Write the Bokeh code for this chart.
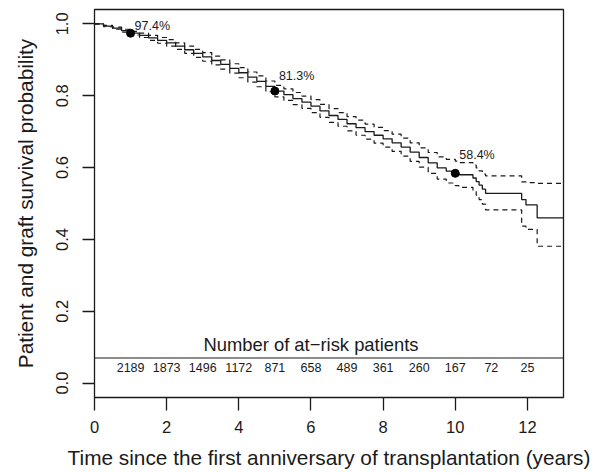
from bokeh.plotting import figure
from bokeh.models import FixedTicker, Span, ColumnDataSource, Range1d
from bokeh.core.properties import value
from bokeh.embed import file_html
from bokeh.resources import INLINE

# Kaplan-Meier estimate (years since first anniversary, survival probability)
times = [0.0, 0.25, 0.5, 0.75, 1.0, 1.25, 1.5, 1.75, 2.0, 2.25, 2.5, 2.75,
         3.0, 3.25, 3.5, 3.75, 4.0, 4.25, 4.5, 4.75, 5.0, 5.25, 5.5, 5.75,
         6.0, 6.25, 6.5, 6.75, 7.0, 7.25, 7.5, 7.75, 8.0, 8.25, 8.5, 8.75,
         9.0, 9.25, 9.5, 9.75, 10.0, 10.1, 10.49, 10.58, 10.66, 10.75, 10.84,
         11.84, 11.96, 12.27]
surv = [1.000, 0.994, 0.988, 0.981, 0.974, 0.968, 0.961, 0.954, 0.947, 0.938,
        0.928, 0.918, 0.908, 0.898, 0.887, 0.876, 0.864, 0.852, 0.840, 0.826,
        0.813, 0.803, 0.792, 0.782, 0.771, 0.758, 0.745, 0.734, 0.722, 0.711,
        0.700, 0.690, 0.680, 0.669, 0.657, 0.643, 0.628, 0.613, 0.599, 0.590,
        0.584, 0.580, 0.571, 0.561, 0.551, 0.540, 0.528, 0.511, 0.496, 0.460]
upper = [1.000, 0.996, 0.991, 0.985, 0.979, 0.974, 0.968, 0.962, 0.956, 0.947,
         0.938, 0.929, 0.920, 0.910, 0.900, 0.889, 0.878, 0.866, 0.855, 0.841,
         0.829, 0.819, 0.809, 0.799, 0.789, 0.776, 0.764, 0.753, 0.742, 0.732,
         0.721, 0.712, 0.703, 0.693, 0.682, 0.669, 0.655, 0.642, 0.630, 0.623,
         0.618, 0.614, 0.607, 0.599, 0.591, 0.582, 0.577, 0.560, 0.558, 0.556]
lower = [1.000, 0.992, 0.985, 0.977, 0.969, 0.962, 0.954, 0.946, 0.938, 0.929,
         0.918, 0.907, 0.896, 0.886, 0.874, 0.863, 0.850, 0.838, 0.825, 0.811,
         0.797, 0.787, 0.775, 0.765, 0.753, 0.740, 0.726, 0.715, 0.702, 0.690,
         0.679, 0.668, 0.657, 0.645, 0.632, 0.617, 0.601, 0.584, 0.568, 0.557,
         0.550, 0.545, 0.535, 0.523, 0.511, 0.498, 0.482, 0.437, 0.428, 0.381]

mark_times = [1, 5, 10]
mark_surv = [0.974, 0.813, 0.584]

risk_times = [1, 2, 3, 4, 5, 6, 7, 8, 9, 10, 11, 12]
risk_counts = [2189, 1873, 1496, 1172, 871, 658, 489, 361, 260, 167, 72, 25]

x_ticks = [0, 2, 4, 6, 8, 10, 12]
y_ticks = [0.0, 0.2, 0.4, 0.6, 0.8, 1.0]
x_max = 13

x_title = "Time since the first anniversary of transplantation (years)"
y_title = "Patient and graft survival probability"
risk_title = "Number of at\u2212risk patients"

FONT = "Liberation Sans"
INK = "#1a1a1a"

p = figure(width=592, height=473, output_backend="svg", toolbar_location=None,
           x_range=Range1d(0, x_max), y_range=Range1d(-0.04, 1.04),
           min_border_left=94, min_border_right=29, min_border_top=9,
           min_border_bottom=76)
p.grid.visible = False
p.outline_line_color = INK
p.outline_line_width = 1.3
p.outline_line_alpha = 1.0

# axes
for ax in (p.xaxis[0], p.yaxis[0]):
    ax.axis_line_color = None
    ax.major_tick_line_color = INK
    ax.major_tick_line_width = 1.3
    ax.major_tick_in = 0
    ax.minor_tick_line_color = None
    ax.major_label_text_font = FONT
    ax.major_label_text_color = INK
    ax.major_label_text_font_size = "16.5px"
    ax.axis_label_text_font = FONT
    ax.axis_label_text_font_style = "normal"
    ax.axis_label_text_color = INK
    ax.axis_label_text_font_size = "20.8px"

p.xaxis.ticker = FixedTicker(ticks=x_ticks)
p.yaxis.ticker = FixedTicker(ticks=y_ticks)
p.xaxis.major_label_overrides = {t: str(t) for t in x_ticks}
p.yaxis.major_label_overrides = {t: f"{t:.1f}" for t in y_ticks}
p.xaxis.major_tick_out = 13
p.yaxis.major_tick_out = 12
p.xaxis.major_label_standoff = 10
p.yaxis.major_label_standoff = 14
p.yaxis.major_label_orientation = "vertical"
p.xaxis.axis_label = x_title
p.yaxis.axis_label = y_title
p.xaxis.axis_label_standoff = 10
p.yaxis.axis_label_standoff = 17

# step curves extended to the right edge of the plot
xs = times + [x_max]
src = ColumnDataSource(dict(x=xs, s=surv + [surv[-1]],
                            up=upper + [upper[-1]], lo=lower + [lower[-1]]))
p.step("x", "up", source=src, mode="after", line_color=INK, line_width=1.2,
       line_dash="5 4")
p.step("x", "lo", source=src, mode="after", line_color=INK, line_width=1.2,
       line_dash="5 4")
p.step("x", "s", source=src, mode="after", line_color=INK, line_width=1.3)

# marked survival points and their labels
p.scatter(mark_times, mark_surv, size=8, color="black")
label_dy = [7, 15, 18]
for t, s, dy in zip(mark_times, mark_surv, label_dy):
    p.text([t], [s], text=[f"{s * 100:.1f}%"], x_offset=4, y_offset=-dy,
           text_font=value(FONT), text_font_size="12.5px", text_color=INK,
           text_align="left", text_baseline="alphabetic")

# at-risk panel
risk_line_y = 0.07
p.add_layout(Span(location=risk_line_y, dimension="width", line_color=INK,
                  line_width=1.2))
p.text([6], [risk_line_y], text=[risk_title], y_offset=-3,
       text_font=value(FONT), text_font_size="18.4px", text_color=INK,
       text_align="center", text_baseline="bottom")
risk_labels = [str(c) for c in risk_counts]
risk_dy = [3 if set(s) <= set("17") else 0 for s in risk_labels]
rsrc = ColumnDataSource(dict(x=risk_times, y=[0.044] * len(risk_times),
                             t=risk_labels, dy=risk_dy))
p.text("x", "y", text="t", y_offset="dy", source=rsrc,
       text_font=value(FONT), text_font_size="12.5px", text_color=INK,
       text_align="center", text_baseline="middle")

open("out.html", "w").write(file_html(p, INLINE))
